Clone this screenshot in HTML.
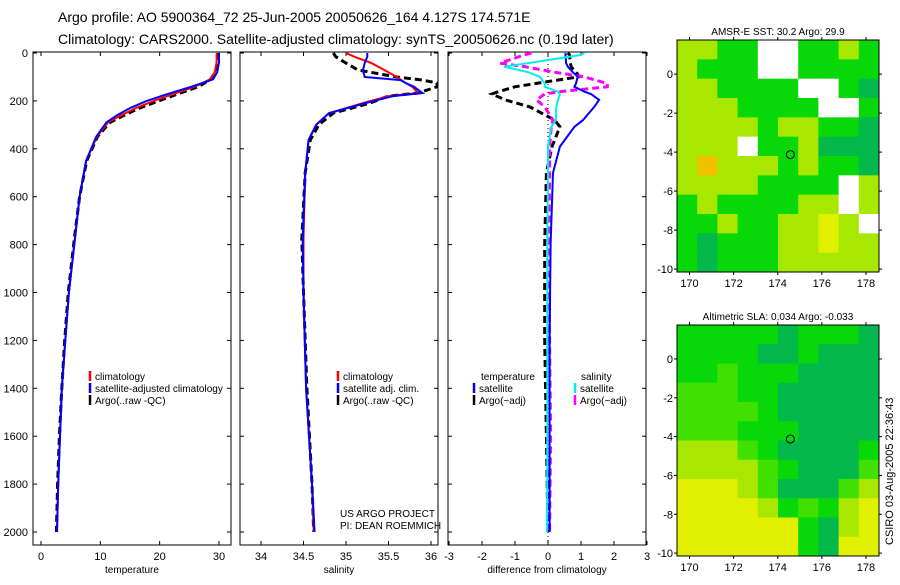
<!DOCTYPE html>
<html><head><meta charset="utf-8"><style>
body{margin:0;background:#fff;width:900px;height:580px;overflow:hidden}
svg text{font-family:"Liberation Sans",sans-serif;fill:#000}
</style></head><body>
<svg id="c" width="900" height="580" xmlns="http://www.w3.org/2000/svg">
<text x="58" y="22" font-size="14">Argo profile: AO 5900364_72 25-Jun-2005 20050626_164 4.127S 174.571E</text>
<text x="58" y="44" font-size="14">Climatology: CARS2000. Satellite-adjusted climatology: synTS_20050626.nc (0.19d later)</text>
<text transform="translate(893,545) rotate(-90)" font-size="11">CSIRO 03-Aug-2005 22:36:43</text>
<text x="340" y="517" font-size="10">US ARGO PROJECT</text>
<text x="340" y="529" font-size="10">PI: DEAN ROEMMICH</text>
</svg>
<script>
// ---- data ----
const depthT=[0,40,80,110,140,170,200,230,260,290,350,450,600,780,1000,1200,1400,1600,1800,2000];
const tempClim=[29.6,29.6,29.3,28.5,26,22.5,19,16,13.5,11.3,9.4,7.6,6.5,5.7,4.7,4.1,3.5,3.2,2.9,2.7];
const tempSat=[30.0,30.0,29.7,29.0,25.5,21.5,17.8,15,12.8,11,9.3,7.6,6.5,5.7,4.7,4.1,3.5,3.2,2.9,2.7];
const tempArgo=[29.9,29.8,29.4,28.6,26.6,23.2,19.8,16.6,14,11.6,9.5,7.7,6.5,5.6,4.6,4.0,3.5,3.1,2.8,2.6];
const depthS=[0,16,42,71,100,113,125,141,167,180,209,251,300,363,500,777,1000,1400,1800,2000];
const salClim=[35.0,35.1,35.3,35.45,35.6,35.65,35.7,35.78,35.85,35.5,35.2,34.8,34.65,34.56,34.52,34.5,34.5,34.53,34.6,34.62];
const salSat=[35.25,35.25,35.22,35.2,35.22,35.64,35.7,35.8,35.9,35.55,35.23,34.8,34.65,34.56,34.52,34.49,34.5,34.53,34.6,34.63];
const salArgo=[34.85,34.88,35.0,35.14,35.6,35.9,36.07,36.07,35.85,35.5,35.28,34.85,34.68,34.58,34.52,34.48,34.5,34.54,34.6,34.62];
const depthD=[0,8,42,57,80,99,127,141,161,171,196,225,280,308,391,500,800,1200,1600,2000];
const dTempSat=[0.53,0.53,0.55,0.6,0.75,0.9,0.85,0.8,1.1,1.3,1.55,1.4,1.06,0.8,0.36,0.15,0.08,0.05,0.05,0.05];
const dTempArgo=[0.6,0.65,0.68,0.7,0.85,0.95,-0.35,-1.0,-1.5,-1.7,-1.3,-0.55,0.2,0.36,0.12,-0.05,-0.1,-0.1,-0.05,0];
const dSalSat=[1.1,1.0,-0.6,-1.33,-0.6,-0.25,-0.1,-0.1,0.3,0.36,0.3,0.25,0.24,0.1,0,0,-0.02,-0.02,-0.02,-0.03];
const dSalArgo=[-0.5,-0.72,-1.45,-0.7,0.2,1.07,1.8,1.8,0.36,-0.1,-0.35,-0.1,0.15,0.1,0.05,0.05,0.03,0.05,0.08,0.05];
const depthTicks=[0,200,400,600,800,1000,1200,1400,1600,1800,2000];
const tempTicks=[0,10,20,30];
const salTicks=[34,34.5,35,35.5,36];
const diffTicks=[-3,-2,-1,0,1,2,3];
const lonTicks=[170,172,174,176,178];
const latTicks=[0,-2,-4,-6,-8,-10];
const sstGrid=["yyggwwggyg","ygggwwgggg","yyggggwwgG","yyyggggwwg","yyyygyyggG","yyywggyGGG","yoyyygyggG","yyyyggggwy","gyggggyywy","ggyggyyYyw","gGgggyyYyy","gGgggyyyyy"];
const slaGrid=["gggggGgggG","ggggGGgGGG","gglgggGGGG","lllggGGGGG","llllgGGGGG","lllgggGGGG","yyylgGGGGg","yyyylgGGGl","YYYylGGGly","YYYYyglgyY","YYYYYYgGyY","YYYYYYgGYY"];
const floatLon=174.571, floatLat=-4.127;

// ---- helpers ----
const svg=document.getElementById('c');const NS='http://www.w3.org/2000/svg';
function mk(t,a,p){const e=document.createElementNS(NS,t);for(const k in a)e.setAttribute(k,a[k]);(p||svg).appendChild(e);return e;}
const yD=d=>53+d*0.2395;
const panels=[
 {x0:33,x1:231,sx:v=>41+v*5.933,ticks:tempTicks,title:'temperature',name:'temperature'},
 {x0:240,x1:438,sx:v=>261+(v-34)*85,ticks:salTicks,title:'salinity',name:'salinity'},
 {x0:448,x1:646,sx:v=>548+v*33,ticks:diffTicks,title:'difference from climatology',name:'difference'}];
panels.forEach((p,i)=>{
 const g=mk('g',{});
 
 
 const r=mk('rect',{x:p.x0,y:52,width:p.x1-p.x0,height:493,fill:'none',stroke:'#000','stroke-width':1},g);
 
 
 depthTicks.forEach(d=>{const y=yD(d);
  mk('line',{x1:p.x0,x2:p.x0+4,y1:y,y2:y,stroke:'#000'},g);mk('line',{x1:p.x1,x2:p.x1-4,y1:y,y2:y,stroke:'#000'},g);
  if(i==0){const t=mk('text',{x:28,y:y+4,'font-size':11,'text-anchor':'end'},g);t.textContent=d;
   
   }
 });
 p.ticks.forEach(v=>{const x=p.sx(v);
  mk('line',{x1:x,x2:x,y1:52,y2:56,stroke:'#000'},g);mk('line',{x1:x,x2:x,y1:545,y2:541,stroke:'#000'},g);
  const t=mk('text',{x:x,y:560,'font-size':11,'text-anchor':'middle'},g);t.textContent=v;
  
  });
 const t=mk('text',{x:(p.x0+p.x1)/2,y:573,'font-size':10,'text-anchor':'middle'},g);t.textContent=p.title;
 
 
});
function line(p,vals,deps,col,w,dash,name){
 const pts=vals.map((v,j)=>p.sx(v).toFixed(1)+','+yD(deps[j]).toFixed(1)).join(' ');
 const e=mk('polyline',{points:pts,fill:'none',stroke:col,'stroke-width':w});
 if(dash)e.setAttribute('stroke-dasharray',dash);
 
 
}
const zl=mk('line',{x1:548,x2:548,y1:52,y2:545,stroke:'#000','stroke-dasharray':'1,3'});


line(panels[0],tempArgo,depthT,'#000',3,'7,4','temp-argo-line');
line(panels[0],tempClim,depthT,'#f00',2,null,'temp-climatology-line');
line(panels[0],tempSat,depthT,'#00f',2,null,'temp-satellite-line');
line(panels[1],salArgo,depthS,'#000',3,'7,4','sal-argo-line');
line(panels[1],salClim,depthS,'#f00',2,null,'sal-climatology-line');
line(panels[1],salSat,depthS,'#00f',2,null,'sal-satellite-line');
line(panels[2],dTempArgo,depthD,'#000',3,'7,4','dtemp-argo-line');
line(panels[2],dSalArgo,depthD,'#f0f',3,'7,4','dsal-argo-line');
line(panels[2],dTempSat,depthD,'#00f',2,null,'dtemp-satellite-line');
line(panels[2],dSalSat,depthD,'#0ee',2,null,'dsal-satellite-line');
function leg(x,y,col,label,name){
 const m=mk('line',{x1:x,x2:x,y1:y-9,y2:y+1,stroke:col,'stroke-width':2.5});
 
 
 const t=mk('text',{x:x+5,y:y,'font-size':10});t.textContent=label;
 
 
}
leg(90,380,'#f00','climatology','legend-climatology');
leg(90,392,'#00f','satellite-adjusted climatology','legend-satellite');
leg(90,404,'#000','Argo(..raw -QC)','legend-argo');
leg(338,380,'#f00','climatology','legend2-climatology');
leg(338,392,'#00f','satellite adj. clim.','legend2-satellite');
leg(338,404,'#000','Argo(..raw -QC)','legend2-argo');
{const t=mk('text',{x:481,y:380,'font-size':10});t.textContent='temperature';
 const s=mk('text',{x:581,y:380,'font-size':10});s.textContent='salinity';}
leg(474,392,'#00f','satellite','legend3-temp-satellite');
leg(474,404,'#000','Argo(~adj)','legend3-temp-argo');
leg(575,392,'#0ee','satellite','legend3-sal-satellite');
leg(575,404,'#f0f','Argo(~adj)','legend3-sal-argo');
const cols={g:'#08d808',G:'#04b84c',l:'#40e000',y:'#a8e800',Y:'#e0f000',o:'#f0c000',w:'#ffffff'};
function map(y0,y1,grid,title,name){
 const x0=677,x1=879;const g=mk('g',{});
 
 
 const cw=(x1-x0)/grid[0].length,ch=(y1-y0)/grid.length;
 grid.forEach((row,r)=>[...row].forEach((c,k)=>{mk('rect',{x:x0+k*cw,y:y0+r*ch,width:cw+0.5,height:ch+0.5,fill:cols[c]},g);}));
 const sx=l=>689.5+(l-170)*22.06;const latTop=1.75,latBot=-10.15;
 const sy=l=>y0+(latTop-l)/(latTop-latBot)*(y1-y0);
 mk('rect',{x:x0,y:y0,width:x1-x0,height:y1-y0,fill:'none',stroke:'#000'},g);
 lonTicks.forEach(l=>{const x=sx(l);mk('line',{x1:x,x2:x,y1:y0,y2:y0-3,stroke:'#000'},g);mk('line',{x1:x,x2:x,y1:y1,y2:y1+3,stroke:'#000'},g);
  const t=mk('text',{x:x,y:y1+15,'font-size':11,'text-anchor':'middle'},g);t.textContent=l;
  
  });
 latTicks.forEach(l=>{const y=sy(l);mk('line',{x1:x0,x2:x0-3,y1:y,y2:y,stroke:'#000'},g);mk('line',{x1:x1,x2:x1+3,y1:y,y2:y,stroke:'#000'},g);
  const t=mk('text',{x:673,y:y+4,'font-size':11,'text-anchor':'end'},g);t.textContent=l;
  
  });
 const c=mk('circle',{cx:sx(floatLon),cy:sy(floatLat),r:4,fill:'none',stroke:'#000'},g);
 
 
 const t=mk('text',{x:778,y:y0-5,'font-size':10,'text-anchor':'middle'},g);t.textContent=title;
 
 
}
map(40,272,sstGrid,'AMSR-E SST: 30.2 Argo: 29.9','sst-map');
map(325,556,slaGrid,'Altimetric SLA: 0.034 Argo: -0.033','sla-map');
</script>
</body></html>
